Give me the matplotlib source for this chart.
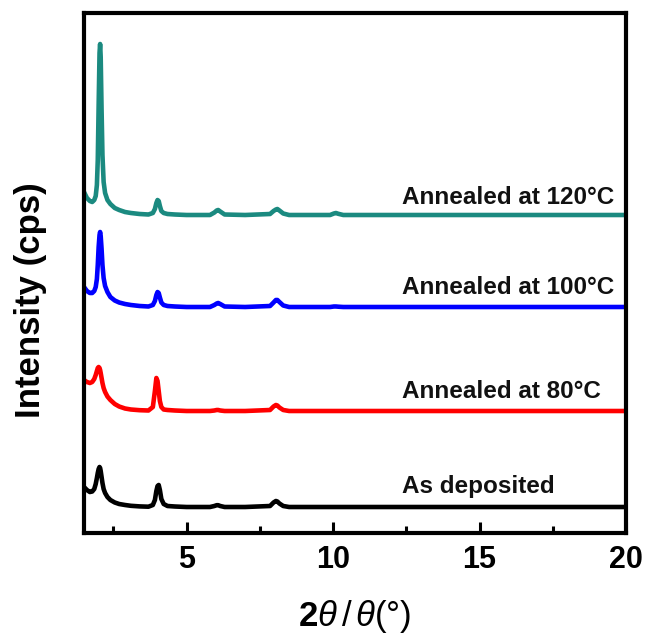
import matplotlib
matplotlib.use("Agg")
import matplotlib.pyplot as plt
from matplotlib.ticker import MultipleLocator

plt.rcParams['font.family'] = ['Liberation Sans', 'DejaVu Sans']
plt.rcParams['mathtext.fontset'] = 'custom'
plt.rcParams['mathtext.rm'] = 'Liberation Sans'
plt.rcParams['mathtext.it'] = 'Liberation Sans:italic'
plt.rcParams['mathtext.bf'] = 'Liberation Sans:bold'

# ---- data (intensities relative to each baseline) ----
two_theta = [1.50, 1.60, 1.70, 1.78, 1.85, 1.90, 1.94, 1.97, 2.00, 2.03,
             2.05, 2.07, 2.10, 2.13, 2.17, 2.22, 2.30, 2.40, 2.55, 2.70,
             2.90, 3.10, 3.40, 3.70, 3.85, 3.92, 3.97, 4.01, 4.05, 4.09,
             4.14, 4.22, 4.35, 4.60, 5.00, 5.80, 5.95, 6.03, 6.08, 6.15,
             6.30, 7.00, 7.85, 7.97, 8.05, 8.10, 8.17, 8.30, 8.50, 9.90,
             10.03, 10.10, 10.18, 10.35, 12.0, 15.0, 20.0]

int_120 = [23, 17, 14, 13, 15, 19, 30, 55, 110, 162,
           171, 158, 105, 60, 33, 22, 15, 11, 7, 5,
           3, 2, 1, 0.5, 2, 6, 12, 15, 14, 9,
           4, 2, 1, 0.5, 0, 0, 2.5, 4.5, 5, 3.5,
           0.5, 0, 1, 4, 5.5, 6, 4.5, 1.5, 0, 0,
           1.5, 2, 1.2, 0, 0, 0, 0]

int_100 = [20, 16, 14, 14, 16, 20, 28, 42, 60, 72,
           75, 71, 58, 42, 29, 21, 15, 10, 6.5, 4.5,
           3, 2, 1, 0.5, 2, 6, 12, 15, 14, 9.5,
           4.5, 2, 1, 0.5, 0, 0, 2, 3.5, 4, 3,
           0.5, 0, 1, 4.5, 7, 7, 5, 1.5, 0, 0,
           0.5, 0.5, 0.3, 0, 0, 0, 0]

int_80 = [31, 29, 28, 29, 32, 36, 40, 43, 44, 43,
          41, 38, 33, 28, 23, 19, 14.5, 11, 7, 4.5,
          2.5, 1.5, 0.8, 0.5, 4, 20, 33, 30, 20, 10,
          4, 1.5, 1, 0.5, 0, 0, 0.5, 1, 1, 0.5,
          0, 0, 1, 4.5, 6, 5.5, 3.5, 1, 0, 0,
          0, 0, 0, 0, 0, 0, 0]

int_dep = [20, 17, 15, 15.5, 18, 23, 29, 34, 38, 40,
           39, 36, 30, 24, 18, 14, 10, 7, 4.5, 3,
           2, 1.2, 0.6, 0.3, 2, 7, 16, 21, 22, 17,
           8, 3, 1, 0.5, 0, 0, 1, 1.8, 1.8, 1,
           0, 0, 1, 4.5, 6, 5.5, 3.5, 1, 0, 0,
           0, 0, 0, 0, 0, 0, 0]

series_labels = ["As deposited", "Annealed at 80°C",
                 "Annealed at 100°C", "Annealed at 120°C"]
series_values = [int_dep, int_80, int_100, int_120]
offsets = [26, 122, 226, 318]
label_y = [46, 142, 246, 336]
colors = ["#000000", "#ff0000", "#0000ff", "#1b8a80"]
x_ticks = [5, 10, 15, 20]

# ---- figure ----
fig = plt.figure(figsize=(6.48, 6.37), dpi=100)
ax = fig.add_axes([84 / 648, 1 - 533 / 637, 542 / 648, 520 / 637])

for vals, off, col, lab, ly in zip(series_values, offsets, colors, series_labels, label_y):
    ax.plot(two_theta, [v + off for v in vals], color=col, lw=3.3,
            solid_joinstyle='round', solid_capstyle='round')
    ax.text(12.34, ly, lab, fontsize=17.5, fontweight='bold',
            ha='left', va='center', color='#111111')

ax.set_xlim(1.5, 20)
ax.set_ylim(0, 520)
ax.set_xticks(x_ticks)
ax.xaxis.set_minor_locator(MultipleLocator(2.5))
ax.set_yticks([])
ax.tick_params(axis='x', which='major', direction='in', length=8, width=2.2,
               labelsize=22, pad=9)
ax.tick_params(axis='x', which='minor', direction='in', length=5, width=2.2)
ax.tick_params(top=False, left=False, right=False)
for lbl in ax.get_xticklabels():
    lbl.set_fontweight('bold')
for sp in ax.spines.values():
    sp.set_linewidth(3)

ax.text(0.5, -0.1615, r'$\mathbf{2}\mathit{\theta}\,\mathit{/}\,\mathit{\theta}$(°)',
        transform=ax.transAxes, ha='center', va='center', fontsize=25)
ax.text(-0.0996, 0.448, 'Intensity (cps)', transform=ax.transAxes,
        rotation=90, ha='center', va='center', fontsize=25, fontweight='bold')

fig.savefig("out.png", dpi=100)
